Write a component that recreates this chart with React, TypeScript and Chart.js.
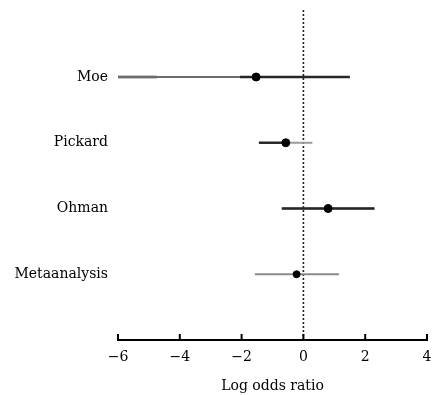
import React, { useEffect, useRef } from "react";
import { Chart, registerables } from "chart.js";

Chart.register(...registerables);

const studies = ["Moe", "Pickard", "Ohman", "Metaanalysis"];
const yPositions = [4, 3, 2, 1];
const estimates = [-1.53, -0.57, 0.8, -0.22];
const lowerCI = [-6, -1.44, -0.7, -1.57];
const upperCI = [1.5, 0.29, 2.3, 1.15];
// darker (inner) part of each interval
const innerLow = [-2.05, -1.44, -0.7, null];
const innerHigh = [1.5, -0.57, 2.3, null];
// lighter overlay on Moe's clipped left tail
const moeTail = [-6, -4.75];
const xTicks = [-6, -4, -2, 0, 2, 4];
const xTitle = "Log odds ratio";

const FONT = "'DejaVu Serif', 'Liberation Serif', serif";
const baseColors = ["#3a3a3a", "#9a9a9a", "#9a9a9a", "#8a8a8a"];
const baseWidths = [1.5, 1.8, 1.8, 2];

const tickPlugin = {
  id: "upTicks",
  afterDraw(chart: any) {
    const sx = chart.scales.x;
    const ctx = chart.ctx;
    const y = chart.chartArea.bottom;
    ctx.save();
    ctx.strokeStyle = "#000";
    ctx.lineWidth = 2;
    xTicks.forEach((v) => {
      const px = sx.getPixelForValue(v);
      ctx.beginPath();
      ctx.moveTo(px, y);
      ctx.lineTo(px, y - 6);
      ctx.stroke();
    });
    ctx.restore();
  },
};

export default function App() {
  const ref = useRef<HTMLCanvasElement>(null);
  useEffect(() => {
    document.body.style.margin = "0";
    const datasets: any[] = [];
    // zero line
    datasets.push({
      type: "line",
      order: 5,
      data: [
        { x: 0, y: 0 },
        { x: 0, y: 5.05 },
      ],
      borderColor: "#222",
      borderWidth: 1.6,
      borderDash: [2, 2],
      pointRadius: 0,
      showLine: true,
    });
    studies.forEach((_, i) => {
      datasets.push({
        type: "line",
        order: 4,
        data: [
          { x: lowerCI[i], y: yPositions[i] },
          { x: upperCI[i], y: yPositions[i] },
        ],
        borderColor: baseColors[i],
        borderWidth: baseWidths[i],
        pointRadius: 0,
        showLine: true,
      });
      if (innerLow[i] !== null) {
        datasets.push({
          type: "line",
          order: 3,
          data: [
            { x: innerLow[i], y: yPositions[i] },
            { x: innerHigh[i], y: yPositions[i] },
          ],
          borderColor: "#262626",
          borderWidth: 2.4,
          pointRadius: 0,
          showLine: true,
        });
      }
    });
    datasets.push({
      type: "line",
      order: 3,
      data: [
        { x: moeTail[0], y: yPositions[0] },
        { x: moeTail[1], y: yPositions[0] },
      ],
      borderColor: "rgba(110,110,110,0.8)",
      borderWidth: 3,
      pointRadius: 0,
      showLine: true,
    });
    datasets.push({
      type: "scatter",
      order: 1,
      data: estimates.map((e, i) => ({ x: e, y: yPositions[i] })),
      backgroundColor: "#000",
      borderColor: "#000",
      pointRadius: [4, 4, 4, 3.5],
      pointHoverRadius: 4,
    });

    const chart = new Chart(ref.current!, {
      type: "scatter",
      data: { datasets },
      plugins: [tickPlugin],
      options: {
        animation: false,
        responsive: false,
        layout: { padding: { top: 6, right: 1, left: 0, bottom: 0 } },
        plugins: { legend: { display: false }, tooltip: { enabled: false } },
        scales: {
          x: {
            type: "linear",
            min: -6,
            max: 4,
            afterBuildTicks: (s: any) => {
              s.ticks = xTicks.map((v) => ({ value: v }));
            },
            afterFit: (s: any) => {
              s.paddingLeft = 0;
              s.paddingRight = 0;
              s.height = 55;
            },
            grid: { display: false, drawTicks: false },
            border: { display: true, color: "#000", width: 2 },
            ticks: {
              color: "#000",
              padding: 9,
              font: { family: FONT, size: 14 },
              maxRotation: 0,
              callback: (v: any) => (v < 0 ? "\u2212" + Math.abs(v) : String(v)),
            },
            title: {
              display: true,
              text: xTitle,
              color: "#000",
              font: { family: FONT, size: 14 },
              padding: { top: 11, bottom: 0 },
            },
          },
          y: {
            type: "linear",
            min: 0,
            max: 5.08,
            afterBuildTicks: (s: any) => {
              s.ticks = yPositions.map((v) => ({ value: v }));
            },
            afterFit: (s: any) => {
              s.width = 118;
              s.paddingTop = 0;
              s.paddingBottom = 0;
            },
            grid: { display: false, drawTicks: false },
            border: { display: false },
            ticks: {
              color: "#000",
              padding: 10,
              font: { family: FONT, size: 14 },
              callback: (v: any) => {
                const i = yPositions.indexOf(v);
                return i >= 0 ? studies[i] : "";
              },
            },
          },
        },
      },
    });
    return () => chart.destroy();
  }, []);
  return <canvas ref={ref} width={432} height={395} style={{ display: "block" }} />;
}
